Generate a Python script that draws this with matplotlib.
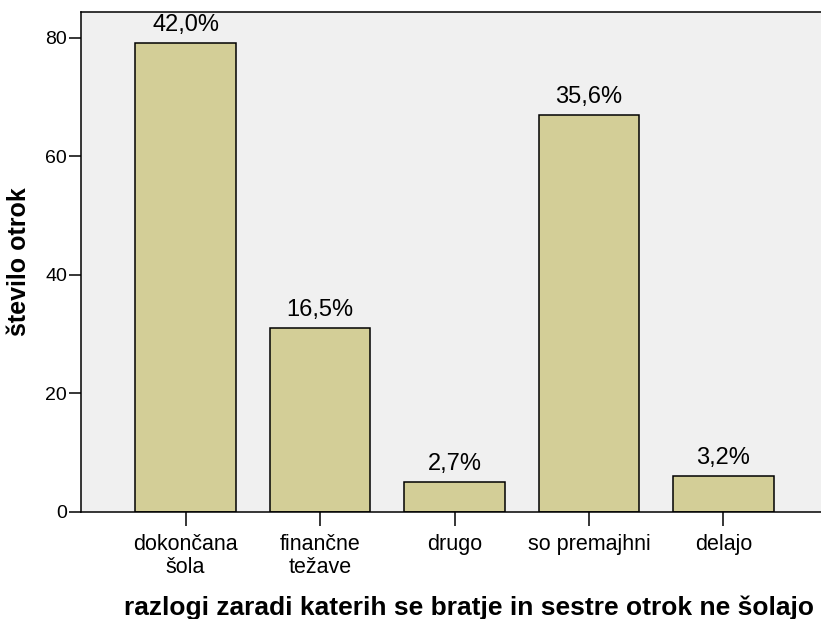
import matplotlib
matplotlib.use("Agg")
import matplotlib.pyplot as plt

categories = ["dokončana\nšola", "finančne\ntežave", "drugo", "so premajhni", "delajo"]
counts = [79, 31, 5, 67, 6]
percent_labels = ["42,0%", "16,5%", "2,7%", "35,6%", "3,2%"]
y_ticks = [0, 20, 40, 60, 80]

plt.rcParams["font.family"] = ["Liberation Sans", "DejaVu Sans"]

fig = plt.figure(figsize=(8.21, 6.19), dpi=100)
ax = fig.add_axes([0.0987, 0.1729, 0.9013, 0.8077])
ax.set_facecolor("#f0f0f0")

x = range(len(categories))
bars = ax.bar(x, counts, width=0.75, color="#d3ce97", edgecolor="black", linewidth=1.1, zorder=2)

for rect, lab in zip(bars, percent_labels):
    ax.annotate(lab, (rect.get_x() + rect.get_width() / 2, rect.get_height()),
                xytext=(0, 5), textcoords="offset points",
                ha="center", va="bottom", fontsize=17)

ax.set_xlim(-0.777, 4.725)
ax.set_ylim(0, 84.3)
ax.set_xticks(list(x))
ax.set_xticklabels(categories, fontsize=15.5, linespacing=1.1)
ax.set_yticks(y_ticks)
ax.tick_params(axis="y", labelsize=14, length=9, width=1.1, pad=1)
ax.tick_params(axis="x", length=10, width=1.1, pad=6)

for side in ["left", "top", "bottom"]:
    ax.spines[side].set_linewidth(1.1)
ax.spines["right"].set_visible(False)

ax.set_xlabel("razlogi zaradi katerih se bratje in sestre otrok ne šolajo",
              fontsize=19, fontweight="bold", labelpad=13)
ax.xaxis.label.set_x(0.524)
ax.set_ylabel("število otrok", fontsize=18, fontweight="bold", labelpad=10)

fig.savefig("out.png", dpi=100)
